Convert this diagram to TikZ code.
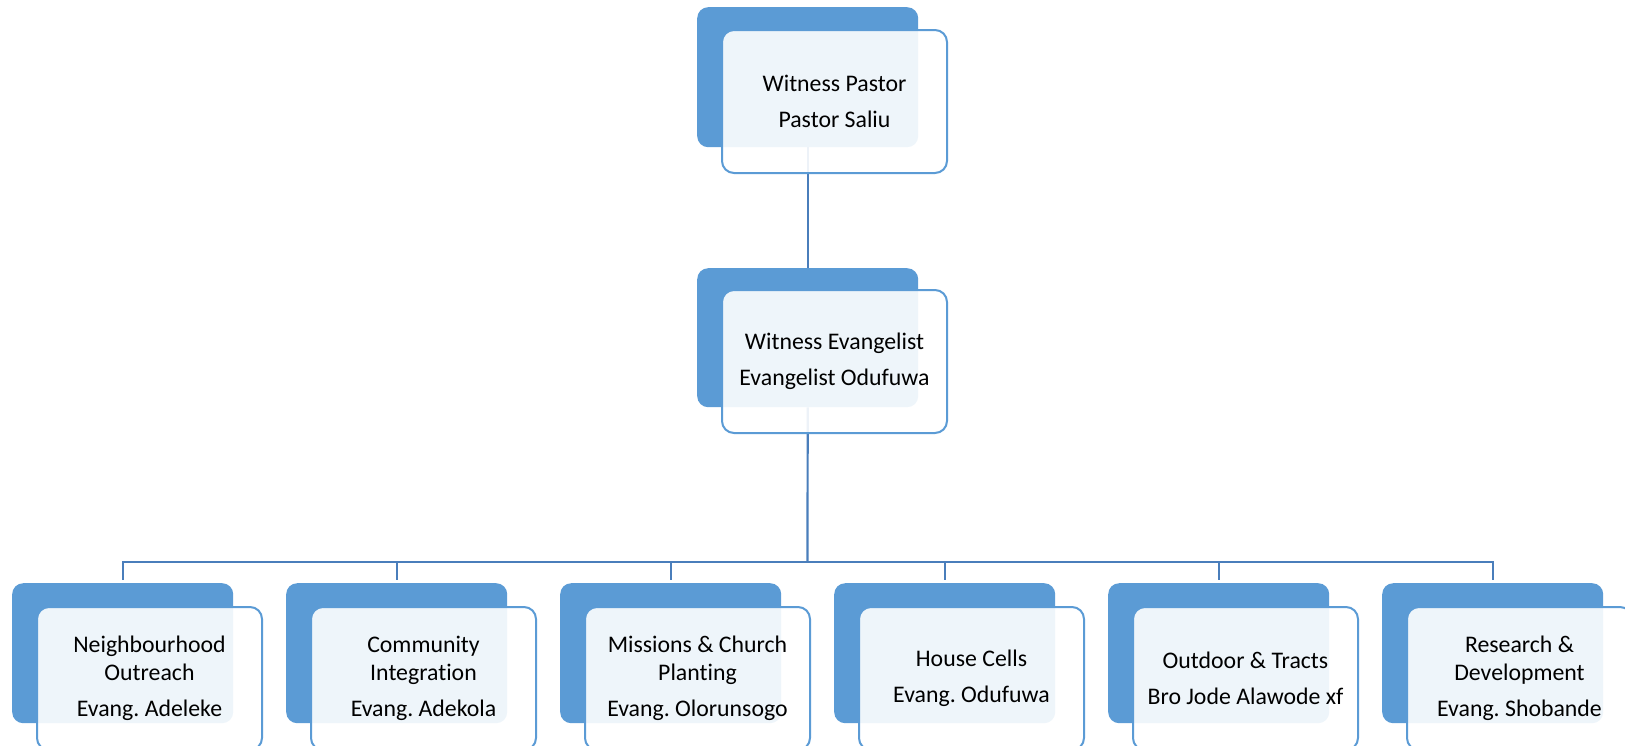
\documentclass[tikz,border=0pt]{standalone}
\usepackage{fontspec}
\setmainfont{Carlito}[Ligatures=NoCommon]
\frenchspacing
\definecolor{darkbox}{HTML}{5B9BD5}
\definecolor{linecol}{HTML}{4A7EBB}
\tikzset{
  backbox/.style={rectangle, rounded corners=11pt, fill=darkbox, minimum width=221pt, minimum height=140pt, inner sep=0pt, anchor=north west},
  frontbox/.style={rectangle, rounded corners=12pt, fill=white, fill opacity=0.9, text opacity=1, draw=darkbox, line width=2pt, minimum width=225pt, minimum height=143pt, inner sep=2pt, anchor=north west, align=center, font=\fontsize{23.8}{27.5}\selectfont},
  linkline/.style={draw=linecol, line width=2.2pt}
}
\begin{document}
\begin{tikzpicture}[x=1pt,y=-1pt]
\useasboundingbox (0,0) rectangle (1625,745);
\clip (0,0) rectangle (1625,745);
% back boxes
\node[backbox] (d0) at (697,7) {};
\node[backbox, minimum height=139pt] (d1) at (697,268) {};
\foreach \i/\x in {1/12,2/286,3/560,4/834,5/1108,6/1382}{
  \node[backbox] (b\i) at (\x,583) {};
}
% connectors
\coordinate (bus) at (807.5,562);
\draw[linkline] (d0.south) -- (d1.north);
\draw[linkline] (d1.south) -- (bus);
\foreach \i in {1,...,6}{
  \draw[linkline, shorten >=3pt] (bus) -| (b\i.north);
}
% front boxes
\node[frontbox] (f0) at (721,29) {Witness Pastor\\[9pt]Pastor Saliu};
\node[frontbox] (f1) at (721,289) {Witness Evangelist\\[9pt]Evangelist Odufuwa};
\node[frontbox] (g1) at (36,606) {Neighbourhood\\Outreach\\[9pt]Evang. Adeleke};
\node[frontbox] (g2) at (310,606) {Community\\Integration\\[9pt]Evang. Adekola};
\node[frontbox] (g3) at (584,606) {Missions \& Church\\Planting\\[9pt]Evang. Olorunsogo};
\node[frontbox] (g4) at (858,606) {House Cells\\[9pt]Evang. Odufuwa};
\node[frontbox] (g5) at (1132,606) {Outdoor \& Tracts\\[9pt]Bro Jode Alawode xf};
\node[frontbox] (g6) at (1406,606) {Research \&\\Development\\[9pt]Evang. Shobande};
\end{tikzpicture}
\end{document}
